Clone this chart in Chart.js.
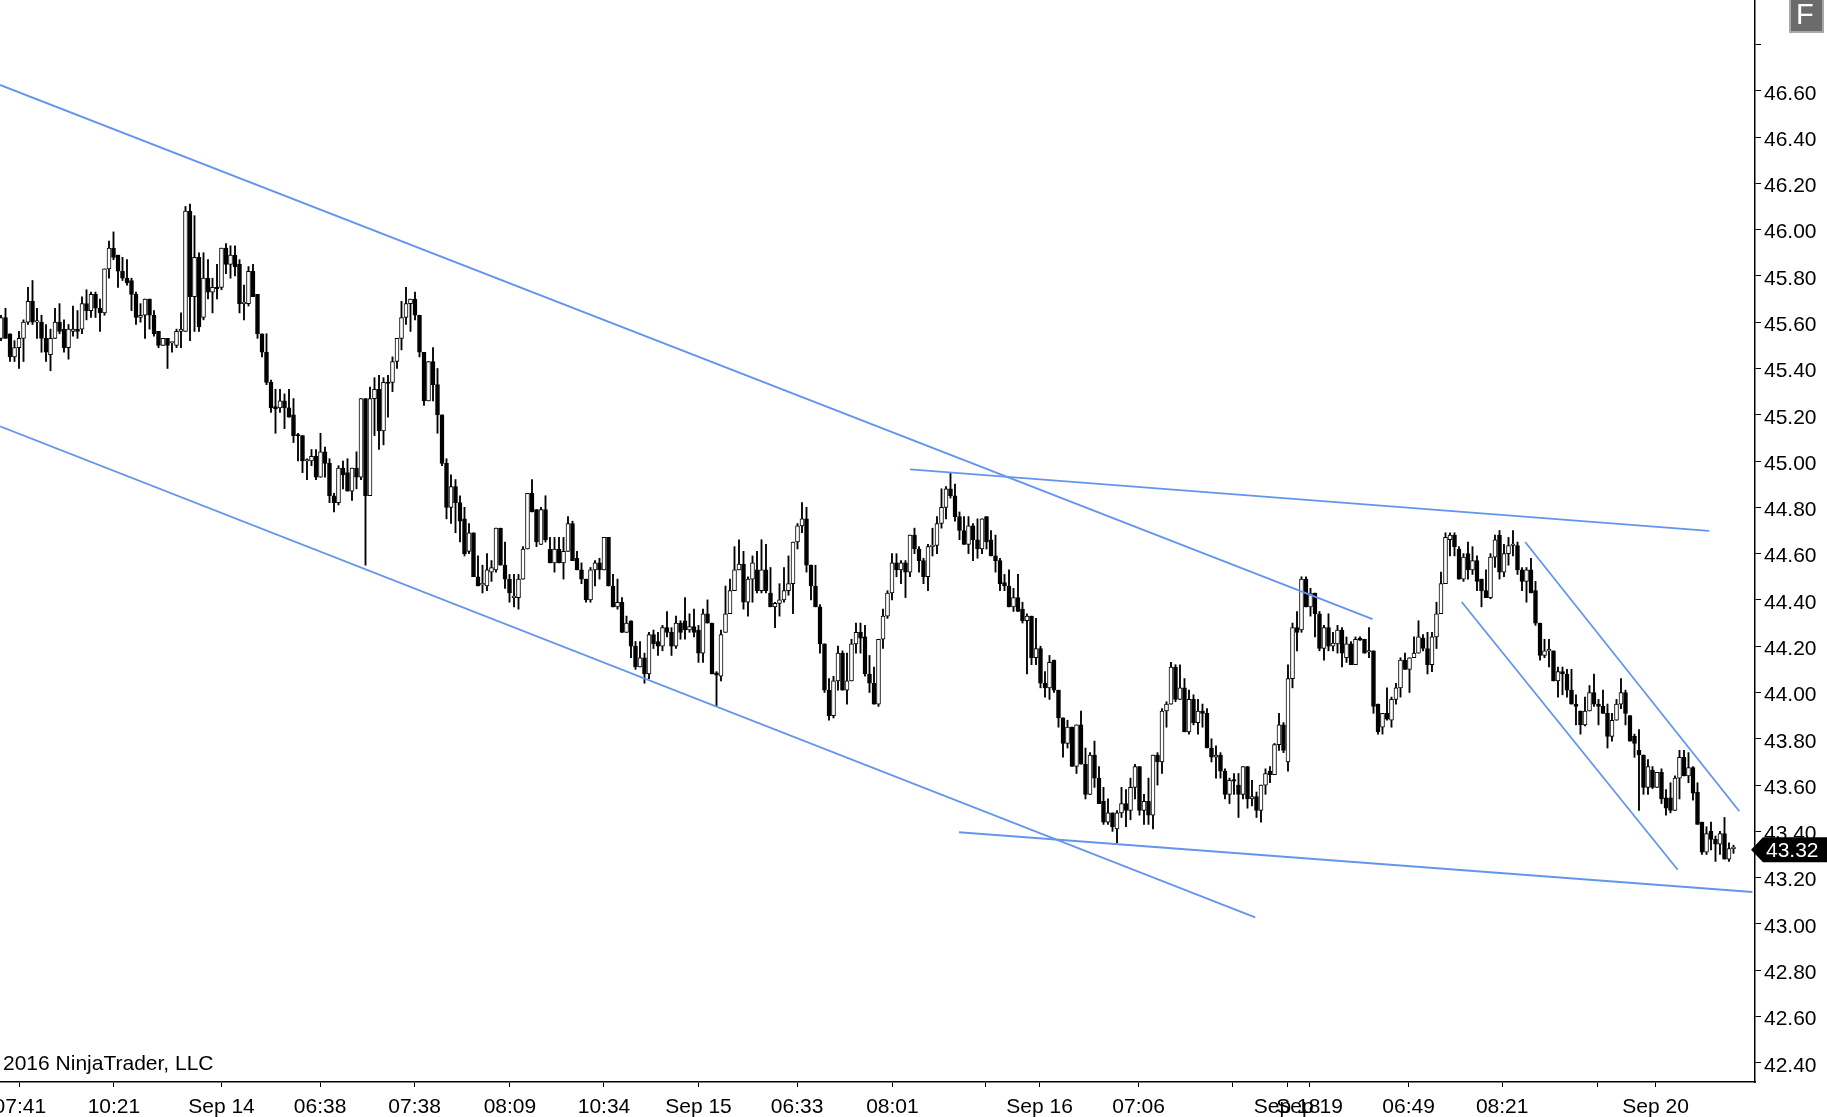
<!DOCTYPE html>
<html>
<head>
<meta charset="utf-8">
<title>Candles</title>
<script src="https://cdn.jsdelivr.net/npm/chart.js@4.4.1/dist/chart.umd.min.js"></script>
<style>
  body { margin: 0; background: #fff; overflow: hidden; }
  canvas { display: block; }
</style>
</head>
<body>
<canvas id="grafico" width="1827" height="1117"></canvas>
<script>
// one value per candle, oldest first
var opens = [
  45.53,45.62,45.55,45.45,45.49,45.53,45.60,45.69,45.60,45.60,
  45.53,45.46,45.53,45.60,45.57,45.49,45.56,45.57,45.57,45.68,
  45.65,45.72,45.66,45.64,45.83,45.92,45.89,45.82,45.79,45.78,
  45.72,45.62,45.63,45.70,45.63,45.56,45.50,45.53,45.51,45.50,
  45.56,45.56,46.08,45.71,45.88,45.62,45.79,45.73,45.75,45.75,
  45.92,45.85,45.89,45.85,45.68,45.68,45.82,45.72,45.55,45.47,
  45.34,45.235,45.23,45.26,45.23,45.20,45.11,45.11,45.00,45.00,
  45.02,44.93,45.04,44.99,44.85,44.82,44.97,44.95,44.87,44.97,
  44.93,45.27,44.85,45.27,45.31,45.13,45.34,45.34,45.43,45.53,
  45.62,45.68,45.70,45.63,45.47,45.26,45.43,45.33,45.20,44.99,
  44.80,44.89,44.82,44.75,44.61,44.69,44.50,44.465,44.46,44.52,
  44.53,44.71,44.55,44.49,44.41,44.41,44.49,44.62,44.86,44.79,
  44.64,44.79,44.62,44.56,44.62,44.56,44.61,44.73,44.58,44.53,
  44.49,44.40,44.53,44.56,44.53,44.67,44.46,44.37,44.39,44.26,
  44.31,44.20,44.11,44.15,44.08,44.25,44.22,44.20,44.28,44.26,
  44.20,44.30,44.31,44.27,44.285,44.27,44.17,44.34,44.30,44.085,
  44.07,44.26,44.34,44.44,44.53,44.555,44.39,44.49,44.53,44.44,
  44.53,44.43,44.37,44.385,44.40,44.44,44.47,44.65,44.72,44.75,
  44.55,44.46,44.37,44.21,44.01,43.90,44.05,44.17,44.01,44.05,
  44.21,44.26,44.24,44.08,44.04,43.95,44.23,44.33,44.43,44.56,
  44.53,44.56,44.52,44.68,44.62,44.57,44.50,44.63,44.635,44.73,
  44.80,44.88,44.85,44.76,44.70,44.64,44.72,44.66,44.62,44.76,
  44.66,44.59,44.57,44.475,44.46,44.37,44.41,44.36,44.31,44.33,
  44.15,44.19,44.04,44.02,44.14,44.01,43.89,43.78,43.85,43.68,
  43.86,43.69,43.56,43.73,43.63,43.53,43.44,43.48,43.41,43.48,
  43.52,43.49,43.59,43.68,43.49,43.53,43.47,43.73,43.70,43.92,
  43.95,44.11,43.97,44.02,43.83,43.97,43.87,43.92,43.91,43.76,
  43.72,43.73,43.66,43.56,43.62,43.60,43.56,43.68,43.54,43.55,
  43.49,43.60,43.66,43.645,43.775,43.86,43.70,44.06,44.28,44.27,
  44.49,44.37,44.43,44.34,44.19,44.28,44.20,44.21,44.27,44.15,
  44.21,44.12,44.235,44.23,44.175,44.18,43.95,43.85,43.91,43.88,
  43.97,44.02,44.14,44.10,44.15,44.17,44.235,44.19,44.12,44.24,
  44.34,44.47,44.66,44.68,44.62,44.49,44.60,44.53,44.57,44.49,
  44.44,44.41,44.585,44.68,44.52,44.60,44.635,44.635,44.53,44.48,
  44.53,44.44,44.30,44.16,44.18,44.18,44.05,44.09,44.08,44.01,
  43.95,43.92,43.86,43.92,44.00,43.95,43.94,43.91,43.81,43.88,
  43.95,44.00,43.90,43.81,43.75,43.73,43.59,43.665,43.59,43.655,
  43.545,43.545,43.49,43.63,43.72,43.64,43.676,43.57,43.44,43.31,
  43.40,43.365,43.345,43.39,43.28,43.325
];
var highs = [
  45.63,45.66,45.55,45.52,45.56,45.61,45.75,45.78,45.66,45.63,
  45.59,45.57,45.66,45.68,45.61,45.59,45.67,45.65,45.71,45.74,
  45.73,45.73,45.70,45.83,45.95,45.99,45.89,45.88,45.87,45.79,
  45.73,45.68,45.70,45.70,45.65,45.56,45.53,45.53,45.51,45.57,
  45.64,46.10,46.11,46.06,45.90,45.90,45.87,45.79,45.85,45.92,
  45.94,45.93,45.93,45.87,45.76,45.84,45.85,45.72,45.55,45.55,
  45.35,45.31,45.31,45.29,45.31,45.27,45.12,45.11,45.01,45.05,
  45.05,45.12,45.06,45.01,44.86,44.98,45.00,45.01,44.97,45.04,
  45.27,45.27,45.32,45.36,45.37,45.36,45.37,45.45,45.53,45.69,
  45.75,45.70,45.73,45.63,45.47,45.43,45.49,45.40,45.20,45.01,
  44.94,44.92,44.85,44.80,44.73,44.69,44.59,44.55,44.60,44.57,
  44.71,44.71,44.65,44.51,44.51,44.51,44.63,44.86,44.92,44.79,
  44.80,44.85,44.67,44.67,44.67,44.67,44.76,44.74,44.61,44.56,
  44.49,44.54,44.57,44.58,44.67,44.67,44.51,44.49,44.41,44.33,
  44.31,44.22,44.22,44.17,44.26,44.27,44.26,44.29,44.35,44.28,
  44.33,44.31,44.41,44.34,44.36,44.29,44.36,44.40,44.30,44.09,
  44.27,44.46,44.49,44.63,44.66,44.61,44.50,44.59,44.61,44.66,
  44.64,44.54,44.39,44.47,44.54,44.59,44.65,44.73,44.82,44.80,
  44.55,44.55,44.38,44.21,44.06,44.07,44.20,44.18,44.17,44.23,
  44.30,44.30,44.29,44.16,44.11,44.23,44.36,44.44,44.60,44.60,
  44.57,44.57,44.68,44.71,44.63,44.58,44.64,44.71,44.76,44.88,
  44.89,44.95,44.90,44.78,44.76,44.76,44.73,44.75,44.75,44.76,
  44.70,44.68,44.58,44.51,44.53,44.45,44.51,44.39,44.34,44.33,
  44.32,44.20,44.09,44.16,44.14,44.01,43.89,43.88,43.85,43.86,
  43.92,43.76,43.74,43.79,43.68,43.59,43.54,43.48,43.49,43.59,
  43.58,43.63,43.69,43.68,43.56,43.63,43.73,43.74,43.93,43.96,
  44.13,44.12,44.12,44.06,44.01,43.99,43.97,43.95,43.93,43.80,
  43.77,43.74,43.67,43.63,43.65,43.65,43.68,43.68,43.62,43.57,
  43.60,43.67,43.68,43.78,43.91,43.87,44.12,44.30,44.35,44.50,
  44.50,44.45,44.43,44.35,44.29,44.34,44.26,44.29,44.28,44.24,
  44.22,44.24,44.24,44.23,44.28,44.18,43.95,43.91,44.02,43.98,
  44.04,44.15,44.17,44.15,44.24,44.31,44.25,44.26,44.26,44.39,
  44.52,44.69,44.69,44.69,44.63,44.60,44.65,44.63,44.59,44.49,
  44.53,44.60,44.68,44.70,44.64,44.67,44.70,44.65,44.54,44.54,
  44.58,44.48,44.30,44.23,44.23,44.18,44.11,44.11,44.10,44.10,
  43.99,43.92,43.98,44.03,44.08,43.97,44.01,43.95,43.91,43.97,
  44.06,44.01,43.90,43.82,43.84,43.73,43.71,43.68,43.65,43.67,
  43.58,43.61,43.64,43.75,43.75,43.74,43.68,43.61,43.44,43.42,
  43.44,43.38,43.40,43.46,43.35,43.34
];
var lows = [
  45.52,45.53,45.43,45.43,45.40,45.43,45.59,45.59,45.53,45.47,
  45.43,45.39,45.53,45.55,45.47,45.44,45.54,45.53,45.55,45.61,
  45.62,45.62,45.56,45.63,45.79,45.87,45.75,45.78,45.76,45.65,
  45.59,45.60,45.53,45.57,45.54,45.49,45.50,45.40,45.47,45.49,
  45.49,45.56,45.52,45.56,45.56,45.61,45.70,45.64,45.70,45.74,
  45.81,45.79,45.80,45.64,45.61,45.67,45.71,45.53,45.45,45.33,
  45.21,45.12,45.21,45.14,45.19,45.08,45.00,44.95,44.92,44.98,
  44.92,44.93,44.93,44.82,44.78,44.81,44.88,44.87,44.83,44.88,
  44.92,44.55,44.85,45.11,45.05,45.07,45.19,45.30,45.40,45.48,
  45.59,45.56,45.61,45.45,45.24,45.26,45.26,45.12,44.98,44.75,
  44.73,44.69,44.65,44.59,44.60,44.50,44.46,44.43,44.44,44.48,
  44.52,44.55,44.45,44.39,44.37,44.36,44.49,44.62,44.78,44.63,
  44.64,44.65,44.56,44.52,44.56,44.49,44.61,44.57,44.53,44.47,
  44.39,44.39,44.46,44.49,44.53,44.46,44.37,44.36,44.26,44.26,
  44.15,44.10,44.11,44.04,44.06,44.19,44.16,44.18,44.24,44.16,
  44.19,44.23,44.23,44.26,44.24,44.13,44.13,44.30,44.08,43.94,
  44.05,44.26,44.34,44.44,44.53,44.36,44.33,44.39,44.43,44.43,
  44.43,44.37,44.28,44.33,44.39,44.42,44.34,44.62,44.69,44.52,
  44.40,44.37,44.17,44.00,43.88,43.89,44.01,44.01,43.95,44.05,
  44.17,44.17,44.07,44.00,43.95,43.94,44.19,44.32,44.40,44.50,
  44.47,44.41,44.50,44.60,44.52,44.47,44.44,44.59,44.60,44.71,
  44.75,44.84,44.74,44.66,44.64,44.60,44.57,44.58,44.60,44.62,
  44.59,44.52,44.44,44.44,44.37,44.35,44.35,44.30,44.08,44.12,
  44.12,44.02,43.98,43.97,44.00,43.85,43.72,43.76,43.68,43.65,
  43.69,43.54,43.56,43.59,43.52,43.43,43.43,43.40,43.35,43.46,
  43.42,43.45,43.54,43.47,43.43,43.43,43.41,43.60,43.65,43.85,
  43.95,43.96,43.97,43.83,43.82,43.86,43.82,43.85,43.76,43.70,
  43.63,43.63,43.54,43.52,43.56,43.46,43.54,43.50,43.51,43.46,
  43.44,43.56,43.61,43.645,43.75,43.74,43.66,44.02,44.18,44.26,
  44.37,44.33,44.24,44.18,44.14,44.18,44.18,44.17,44.11,44.13,
  44.12,44.12,44.225,44.17,44.15,43.91,43.82,43.82,43.88,43.85,
  43.95,43.98,44.10,44.00,44.15,44.17,44.18,44.08,44.09,44.19,
  44.34,44.47,44.59,44.59,44.49,44.48,44.49,44.51,44.44,44.37,
  44.41,44.405,44.54,44.49,44.50,44.55,44.59,44.51,44.44,44.39,
  44.43,44.29,44.14,44.15,44.11,44.05,43.98,43.99,43.98,43.95,
  43.86,43.82,43.855,43.92,43.94,43.86,43.91,43.76,43.79,43.88,
  43.93,43.86,43.79,43.72,43.49,43.56,43.56,43.585,43.59,43.52,
  43.47,43.48,43.49,43.54,43.64,43.61,43.535,43.43,43.30,43.30,
  43.32,43.27,43.30,43.28,43.27,43.305
];
var closes = [
  45.62,45.53,45.45,45.49,45.53,45.60,45.69,45.60,45.60,45.53,
  45.47,45.53,45.60,45.56,45.49,45.57,45.57,45.56,45.68,45.65,
  45.72,45.66,45.64,45.83,45.92,45.88,45.82,45.79,45.77,45.72,
  45.62,45.63,45.70,45.63,45.55,45.50,45.53,45.50,45.51,45.56,
  45.57,46.08,45.71,45.88,45.58,45.79,45.73,45.75,45.745,45.92,
  45.85,45.89,45.84,45.68,45.68,45.82,45.71,45.55,45.47,45.34,
  45.23,45.225,45.26,45.23,45.19,45.11,45.108,45.00,45.00,45.02,
  44.93,45.04,44.99,44.85,44.82,44.97,44.94,44.87,44.97,44.93,
  45.27,44.85,45.27,45.31,45.13,45.34,45.335,45.43,45.53,45.62,
  45.68,45.70,45.63,45.47,45.26,45.43,45.33,45.20,44.99,44.80,
  44.89,44.82,44.74,44.60,44.69,44.50,44.46,44.465,44.53,44.54,
  44.71,44.55,44.49,44.43,44.41,44.49,44.62,44.86,44.78,44.65,
  44.79,44.66,44.56,44.62,44.56,44.61,44.73,44.57,44.53,44.49,
  44.40,44.53,44.56,44.53,44.67,44.46,44.37,44.39,44.26,44.30,
  44.20,44.11,44.15,44.08,44.25,44.21,44.20,44.28,44.26,44.20,
  44.30,44.26,44.27,44.285,44.26,44.17,44.34,44.30,44.08,44.075,
  44.25,44.34,44.44,44.53,44.555,44.39,44.49,44.56,44.44,44.53,
  44.44,44.37,44.385,44.40,44.44,44.47,44.65,44.72,44.75,44.55,
  44.46,44.37,44.21,44.01,43.90,44.05,44.17,44.01,44.05,44.21,
  44.26,44.235,44.08,44.04,43.95,44.23,44.33,44.43,44.56,44.53,
  44.56,44.52,44.68,44.62,44.57,44.50,44.63,44.635,44.73,44.80,
  44.88,44.85,44.76,44.70,44.64,44.72,44.66,44.62,44.75,44.65,
  44.59,44.57,44.47,44.46,44.37,44.41,44.35,44.31,44.33,44.15,
  44.19,44.04,44.02,44.13,44.01,43.89,43.78,43.85,43.68,43.86,
  43.69,43.56,43.73,43.63,43.52,43.44,43.48,43.42,43.48,43.52,
  43.49,43.59,43.68,43.49,43.53,43.47,43.73,43.70,43.92,43.95,
  44.11,43.97,44.02,43.83,43.97,43.87,43.92,43.91,43.76,43.72,
  43.73,43.66,43.56,43.62,43.617,43.56,43.68,43.54,43.55,43.49,
  43.60,43.65,43.645,43.775,43.86,43.75,44.06,44.28,44.26,44.49,
  44.37,44.43,44.34,44.19,44.28,44.20,44.213,44.27,44.17,44.21,
  44.12,44.23,44.226,44.17,44.175,43.94,43.83,43.91,43.885,43.97,
  44.02,44.14,44.10,44.15,44.17,44.24,44.19,44.12,44.24,44.34,
  44.47,44.67,44.68,44.63,44.49,44.585,44.53,44.57,44.48,44.44,
  44.41,44.585,44.66,44.52,44.60,44.635,44.635,44.53,44.48,44.53,
  44.43,44.30,44.16,44.18,44.18,44.05,44.09,44.08,44.01,43.95,
  43.94,43.86,43.92,44.00,43.95,43.94,43.91,43.81,43.88,43.95,
  44.00,43.91,43.79,43.78,43.73,43.59,43.68,43.59,43.655,43.54,
  43.50,43.49,43.63,43.72,43.64,43.676,43.565,43.43,43.31,43.39,
  43.365,43.345,43.39,43.28,43.325,43.325
];

// time axis: candle position of each tick and its text
var tickIndex = [4.2, 25.1, 49, 70.9, 91.9, 113.1, 134, 155, 176.9, 198.1,
                 218.8, 230.8, 252.8, 273.7, 285.8, 290.8, 312.8, 333.6, 354.8, 367.7];
var tickLabels = ['07:41', '10:21', 'Sep 14', '06:38', '07:38', '08:09', '10:34', 'Sep 15', '06:33', '08:01',
                  '', 'Sep 16', '07:06', '', 'Sep 18', 'Sep 19', '06:49', '08:21', '', 'Sep 20'];
var priceTicks = [42.40, 42.60, 42.80, 43.00, 43.20, 43.40, 43.60, 43.80, 44.00, 44.20, 44.40,
                  44.60, 44.80, 45.00, 45.20, 45.40, 45.60, 45.80, 46.00, 46.20, 46.40, 46.60, 46.80];

// drawn trend lines (candle position, price)
var lineStartX = [-0.22, -0.22, 202.0, 212.9, 338.7, 324.6];
var lineStartY = [46.625, 45.150, 44.964, 43.396, 44.650, 44.391];
var lineEndX   = [304.8, 278.7, 379.6, 389.2, 386.3, 372.6];
var lineEndY   = [44.317, 43.028, 44.698, 43.138, 43.487, 43.234];

var lastPrice = 43.32;

var FONT = "'Liberation Sans', Arial, sans-serif";
Chart.defaults.font.family = FONT;
Chart.defaults.font.size = 21;
Chart.defaults.color = '#000';

var wickData = opens.map(function (o, i) { return { x: i, y: [lows[i], highs[i]] }; });
var bodyData = opens.map(function (o, i) { return { x: i, y: [o, closes[i]] }; });
var bodyColors = opens.map(function (o, i) { return closes[i] >= o ? '#ffffff' : '#000000'; });

var datasets = [
  { data: wickData, backgroundColor: '#000', barThickness: 1.2, grouped: false, order: 3 },
  { data: bodyData, backgroundColor: bodyColors, borderColor: '#000', borderWidth: 1,
    borderSkipped: false, barThickness: 4, minBarLength: 1.5, grouped: false, order: 2 }
];
for (var k = 0; k < lineStartX.length; k++) {
  datasets.push({
    type: 'line',
    data: [{ x: lineStartX[k], y: lineStartY[k] }, { x: lineEndX[k], y: lineEndY[k] }],
    borderColor: 'rgb(100,149,237)', borderWidth: 1.8, pointRadius: 0, fill: false, order: 1
  });
}

// copyright, last price marker and the F button
var extras = {
  id: 'extras',
  afterDraw: function (chart) {
    var ctx = chart.ctx;
    var right = chart.chartArea.right;
    var y = chart.scales.y.getPixelForValue(lastPrice);
    ctx.save();
    ctx.font = '21px ' + FONT;
    ctx.fillStyle = '#000';
    ctx.textBaseline = 'alphabetic';
    ctx.fillText('2016 NinjaTrader, LLC', 3, 1069.5);

    ctx.beginPath();
    ctx.moveTo(right - 4, y);
    ctx.lineTo(right + 8, y - 12.5);
    ctx.lineTo(1827, y - 12.5);
    ctx.lineTo(1827, y + 12.5);
    ctx.lineTo(right + 8, y + 12.5);
    ctx.closePath();
    ctx.fill();
    ctx.fillStyle = '#fff';
    ctx.fillText(lastPrice.toFixed(2), right + 11, y + 7.5);

    ctx.fillStyle = '#6b6b6b';
    ctx.fillRect(1790, -1, 33, 33);
    ctx.strokeStyle = '#a8a8a8';
    ctx.lineWidth = 2;
    ctx.strokeRect(1790, -1, 33, 33);
    ctx.fillStyle = '#fff';
    ctx.font = '29px ' + FONT;
    ctx.fillText('F', 1796, 23.5);
    ctx.restore();
  }
};

new Chart(document.getElementById('grafico'), {
  type: 'bar',
  data: { datasets: datasets },
  plugins: [extras],
  options: {
    responsive: false,
    devicePixelRatio: 1,
    animation: false,
    events: [],
    layout: { padding: 0 },
    plugins: { legend: { display: false }, tooltip: { enabled: false } },
    scales: {
      x: {
        type: 'linear', min: -0.222, max: 389.78, offset: false,
        grid: { drawOnChartArea: false, tickLength: 5, color: '#000', offset: false },
        border: { display: true, color: '#000', width: 1.5 },
        ticks: {
          autoSkip: false, maxRotation: 0, minRotation: 0, padding: 8,
          callback: function (v, i) { return tickLabels[i]; }
        },
        afterBuildTicks: function (s) {
          s.ticks = tickIndex.map(function (v) { return { value: v }; });
        },
        afterFit: function (s) { s.height = 35; s.paddingLeft = 0; s.paddingRight = 0; }
      },
      y: {
        position: 'right', min: 42.317, max: 46.992,
        grid: { drawOnChartArea: false, tickLength: 6, color: '#000' },
        border: { display: true, color: '#000', width: 1.5 },
        ticks: {
          padding: 3, labelOffset: 3,
          callback: function (v) { return v > 46.7 ? '' : v.toFixed(2); }
        },
        afterBuildTicks: function (s) {
          s.ticks = priceTicks.map(function (v) { return { value: v }; });
        },
        afterFit: function (s) { s.width = 72; s.paddingTop = 0; s.paddingBottom = 0; }
      }
    }
  }
});
</script>
</body>
</html>
